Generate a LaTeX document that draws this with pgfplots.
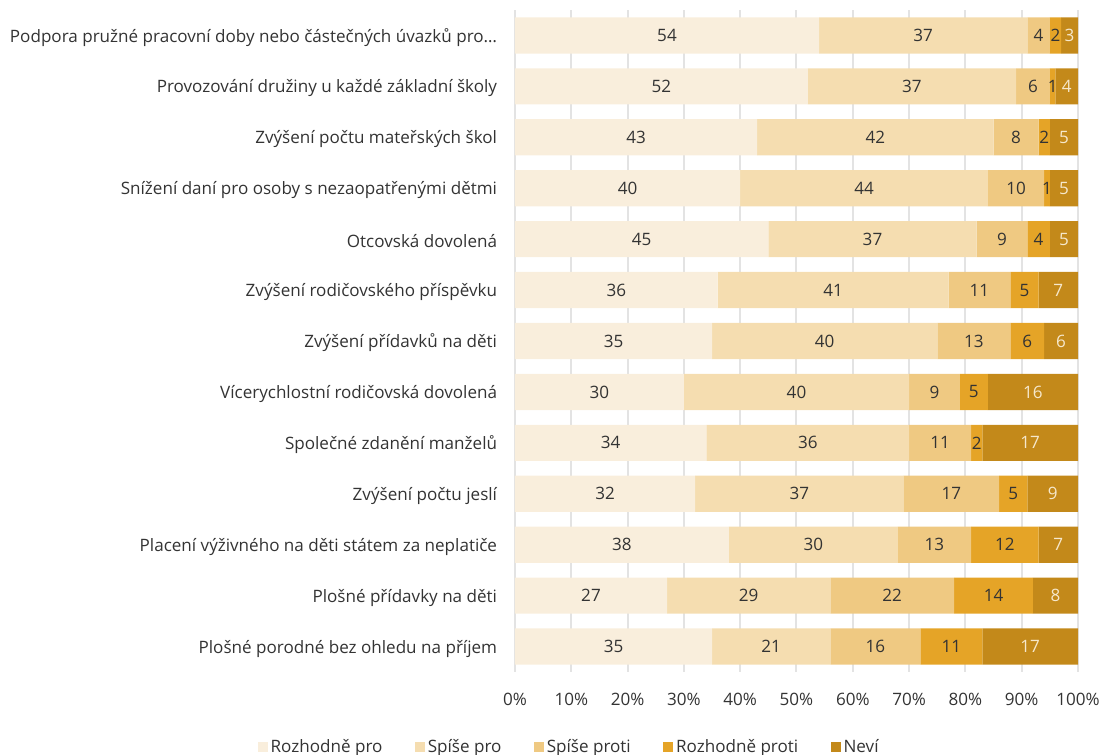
\documentclass[border=0pt]{standalone}
\usepackage{fontspec}
\setmainfont{Open Sans}
\usepackage{pgfplots}
\usepackage{pgfplotstable}
\pgfplotsset{compat=1.18}
\definecolor{c1}{HTML}{F9EEDC}
\definecolor{c2}{HTML}{F5DDB0}
\definecolor{c3}{HTML}{EFC982}
\definecolor{c4}{HTML}{E5A427}
\definecolor{c5}{HTML}{C3891A}
\definecolor{tc}{HTML}{333333}
\definecolor{lc}{HTML}{F6E8CC}
\definecolor{gridc}{HTML}{E3E3E3}
\pgfplotsset{sq/.style={legend image code/.code={\fill[##1] (0pt,-4pt) rectangle (7.5pt,3.5pt);}}}
\pgfplotstableread{
row a b c d e
0 54 37 4 2 3
1 52 37 6 1 4
2 43 42 8 2 5
3 40 44 10 1 5
4 45 37 9 4 5
5 36 41 11 5 7
6 35 40 13 6 6
7 30 40 9 5 16
8 34 36 11 2 17
9 32 37 17 5 9
10 38 30 13 12 7
11 27 29 22 14 8
12 35 21 16 11 17
}\data
\begin{document}
\fontsize{12.8pt}{15pt}\selectfont
\begin{tikzpicture}
\path[use as bounding box] (-386.25pt,-62.25pt) rectangle (442.5pt,504pt);
\begin{axis}[
 at={(0,0)}, anchor=south west,
 scale only axis, width=422.25pt, height=496.5pt,
 xbar stacked, bar width=0.71,
 xmin=0, xmax=100, ymin=-0.5, ymax=12.5, y dir=reverse,
 ytick={0,...,12},
 yticklabels={Podpora pružné pracovní doby nebo částečných úvazků pro…,
 Provozování družiny u každé základní školy,
 Zvýšení počtu mateřských škol,
 Snížení daní pro osoby s nezaopatřenými dětmi,
 Otcovská dovolená,
 Zvýšení rodičovského příspěvku,
 Zvýšení přídavků na děti,
 Vícerychlostní rodičovská dovolená,
 Společné zdanění manželů,
 Zvýšení počtu jeslí,
 Placení výživného na děti státem za neplatiče,
 Plošné přídavky na děti,
 Plošné porodné bez ohledu na příjem},
 xtick={0,10,...,100},
 xticklabels={0\%,10\%,20\%,30\%,40\%,50\%,60\%,70\%,80\%,90\%,100\%},
 axis line style={draw=none}, major tick length=0pt,
 xmajorgrids, grid style={gridc, line width=1.5pt},
 tick label style={text=tc, font=\fontsize{12.8pt}{15pt}\selectfont},
 yticklabel style={xshift=-9pt, yshift=-1.5pt},
 xticklabel style={yshift=-11pt},
 legend columns=-1,
 legend style={draw=none, fill=none, at={(0.097,-0.113)}, anchor=center,
   font=\fontsize{12.8pt}{15pt}\selectfont, text=tc,
   /tikz/every even column/.append style={column sep=22.5pt}},
 nodes near coords, point meta=rawx,
 /pgf/number format/assume math mode=true,
 every node near coord/.append style={anchor=center,
   font=\fontsize{12.8pt}{15pt}\selectfont, text=tc},
]
\addplot[fill=c1, draw=none, sq] table[x=a, y=row]{\data};
\addplot[fill=c2, draw=none, sq] table[x=b, y=row]{\data};
\addplot[fill=c3, draw=none, sq] table[x=c, y=row]{\data};
\addplot[fill=c4, draw=none, sq] table[x=d, y=row]{\data};
\addplot[fill=c5, draw=none, sq, every node near coord/.append style={text=lc}] table[x=e, y=row]{\data};
\legend{Rozhodně pro, Spíše pro, Spíše proti, Rozhodně proti, Neví}
\end{axis}
\end{tikzpicture}
\end{document}
